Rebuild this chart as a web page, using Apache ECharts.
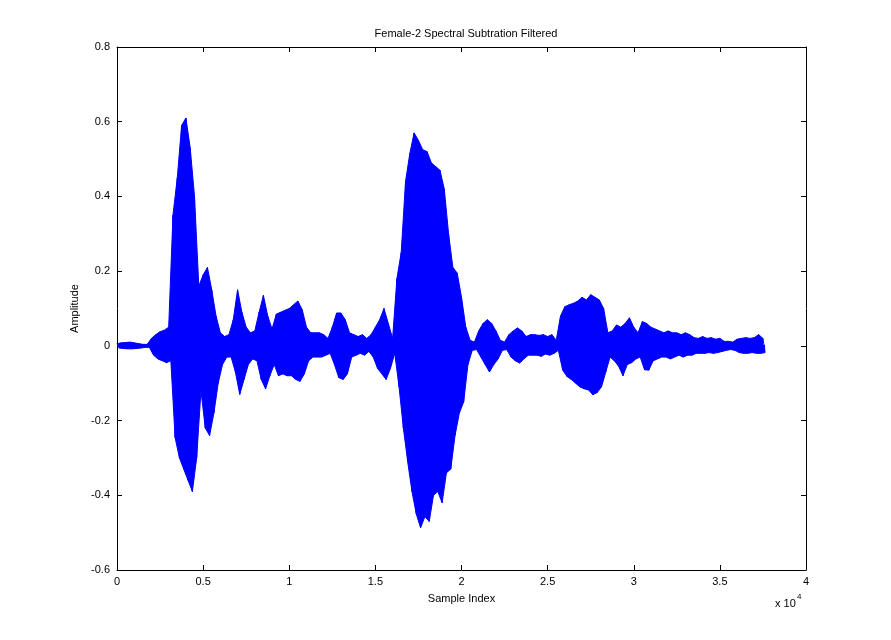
<!DOCTYPE html>
<html>
<head>
<meta charset="utf-8">
<script src="https://cdn.jsdelivr.net/npm/echarts@6/dist/echarts.min.js"></script>
<style>
html,body{margin:0;padding:0;background:#fff;}
#chart{width:891px;height:640px;}
</style>
</head>
<body>
<div id="chart"></div>
<script>
// Waveform envelope, one pair per block of 250 samples
var blockSize = 250;
var upperEnvelope = [
  0.006,0.008,0.009,0.010,0.008,0.006,0.004,0.004,0.020,0.030,
  0.038,0.042,0.050,0.350,0.450,0.590,0.610,0.530,0.400,0.160,
  0.190,0.210,0.150,0.080,0.035,0.025,0.030,0.070,0.150,0.090,
  0.050,0.035,0.040,0.090,0.135,0.080,0.045,0.085,0.090,0.095,
  0.100,0.110,0.120,0.097,0.050,0.035,0.035,0.035,0.030,0.020,
  0.050,0.088,0.088,0.070,0.035,0.030,0.025,0.030,0.020,0.030,
  0.050,0.070,0.100,0.060,0.020,0.180,0.250,0.440,0.515,0.570,
  0.550,0.525,0.520,0.490,0.480,0.470,0.420,0.300,0.210,0.195,
  0.130,0.050,0.015,0.010,0.040,0.060,0.070,0.060,0.040,0.015,
  0.010,0.030,0.040,0.048,0.040,0.025,0.030,0.030,0.028,0.030,
  0.025,0.030,0.015,0.080,0.105,0.110,0.114,0.120,0.130,0.123,
  0.137,0.130,0.123,0.100,0.035,0.040,0.056,0.050,0.060,0.075,
  0.050,0.035,0.065,0.060,0.050,0.045,0.040,0.035,0.040,0.035,
  0.035,0.030,0.035,0.030,0.022,0.020,0.025,0.020,0.022,0.018,
  0.020,0.012,0.012,0.010,0.018,0.020,0.022,0.020,0.022,0.030,
  0.020
];
var lowerEnvelope = [
  -0.006,-0.007,-0.008,-0.008,-0.007,-0.006,-0.004,-0.004,-0.025,-0.035,
  -0.040,-0.045,-0.040,-0.246,-0.300,-0.330,-0.360,-0.390,-0.300,-0.120,
  -0.220,-0.240,-0.180,-0.100,-0.050,-0.030,-0.030,-0.070,-0.130,-0.090,
  -0.050,-0.035,-0.040,-0.090,-0.115,-0.080,-0.050,-0.080,-0.075,-0.080,
  -0.080,-0.090,-0.095,-0.075,-0.040,-0.030,-0.030,-0.030,-0.025,-0.020,
  -0.050,-0.085,-0.090,-0.075,-0.030,-0.025,-0.020,-0.025,-0.015,-0.030,
  -0.060,-0.075,-0.090,-0.060,-0.020,-0.110,-0.220,-0.310,-0.390,-0.450,
  -0.487,-0.457,-0.470,-0.400,-0.390,-0.420,-0.340,-0.330,-0.240,-0.180,
  -0.150,-0.050,-0.012,-0.010,-0.030,-0.050,-0.070,-0.050,-0.035,-0.012,
  -0.010,-0.030,-0.040,-0.046,-0.035,-0.025,-0.025,-0.025,-0.028,-0.022,
  -0.025,-0.020,-0.012,-0.065,-0.082,-0.090,-0.100,-0.110,-0.115,-0.118,
  -0.131,-0.125,-0.110,-0.070,-0.030,-0.040,-0.055,-0.080,-0.050,-0.045,
  -0.035,-0.030,-0.064,-0.065,-0.040,-0.035,-0.030,-0.030,-0.035,-0.030,
  -0.025,-0.030,-0.025,-0.025,-0.020,-0.020,-0.020,-0.018,-0.020,-0.018,
  -0.015,-0.012,-0.010,-0.012,-0.018,-0.020,-0.020,-0.018,-0.020,-0.020,
  -0.018
];
var xTickValues = [0,5000,10000,15000,20000,25000,30000,35000,40000];
var yTickValues = [-0.6,-0.4,-0.2,0,0.2,0.4,0.6,0.8];

var upperPts = [], lowerPts = [], wave = [];
for (var i = 0; i < upperEnvelope.length; i++) {
  upperPts.push([i * blockSize, upperEnvelope[i]]);
  lowerPts.push([i * blockSize + blockSize / 2, lowerEnvelope[i]]);
  wave.push([i * blockSize, upperEnvelope[i]]);
  wave.push([i * blockSize + blockSize / 2, lowerEnvelope[i]]);
}

var FONT = 'Liberation Sans';
function fmtX(v){ return String(Math.round(v/10000*10)/10); }
function fmtY(v){ return String(Math.round(v*10)/10); }

var axisCommonX = {
  type:'value', min:0, max:40000, interval:5000,
  axisLine:{show:true, onZero:false, lineStyle:{color:'#000', width:1}},
  axisTick:{show:true, inside:true, length:5, lineStyle:{color:'#000'}},
  splitLine:{show:false}
};
var axisCommonY = {
  type:'value', min:-0.6, max:0.8, interval:0.2,
  axisLine:{show:true, onZero:false, lineStyle:{color:'#000', width:1}},
  axisTick:{show:true, inside:true, length:5, lineStyle:{color:'#000'}},
  splitLine:{show:false}
};

var BLUE = '#0000ff';
function bandSeries(pts, originVal){
  return {
    type:'line', data:pts, xAxisIndex:0, yAxisIndex:0,
    showSymbol:false, symbol:'none', sampling:null,
    lineStyle:{color:BLUE, width:1},
    areaStyle:{color:BLUE, opacity:1, origin:originVal},
    clip:true, z:2
  };
}

var chart = echarts.init(document.getElementById('chart'), null, {renderer:'canvas'});
chart.setOption({
  animation:false,
  backgroundColor:'#fff',
  title:{
    text:'Female-2 Spectral Subtration Filtered',
    left:461, top:23, textAlign:'center',
    textStyle:{fontFamily:FONT, fontSize:11, fontWeight:'normal', color:'#000'}
  },
  grid:{left:117, right:85, top:47, bottom:70, containLabel:false},
  xAxis:[
    Object.assign({}, axisCommonX, {
      position:'bottom',
      name:'Sample Index', nameLocation:'middle', nameGap:23,
      nameTextStyle:{fontFamily:FONT, fontSize:11, color:'#000'},
      axisLabel:{show:true, margin:6, fontFamily:FONT, fontSize:11, color:'#000', formatter:fmtX}
    }),
    Object.assign({}, axisCommonX, {position:'top', axisLabel:{show:false}})
  ],
  yAxis:[
    Object.assign({}, axisCommonY, {
      position:'left',
      name:'Amplitude', nameLocation:'middle', nameGap:36, nameRotate:90,
      nameTextStyle:{fontFamily:FONT, fontSize:11, color:'#000'},
      axisLabel:{show:true, margin:7, fontFamily:FONT, fontSize:11, color:'#000', formatter:fmtY}
    }),
    Object.assign({}, axisCommonY, {position:'right', axisLabel:{show:false}})
  ],
  graphic:[
    {type:'text', left:775, top:598, style:{text:'x 10', font:'11px "Liberation Sans"', fill:'#000'}},
    {type:'text', left:797, top:593, style:{text:'4', font:'8px "Liberation Sans"', fill:'#000'}}
  ],
  series:[
    bandSeries(upperPts, -0.003),
    bandSeries(lowerPts, 0.003),
    {
      type:'line', data:wave, xAxisIndex:0, yAxisIndex:0,
      showSymbol:false, symbol:'none', sampling:null,
      lineStyle:{color:BLUE, width:1}, clip:true, z:3
    }
  ]
});
</script>
</body>
</html>
